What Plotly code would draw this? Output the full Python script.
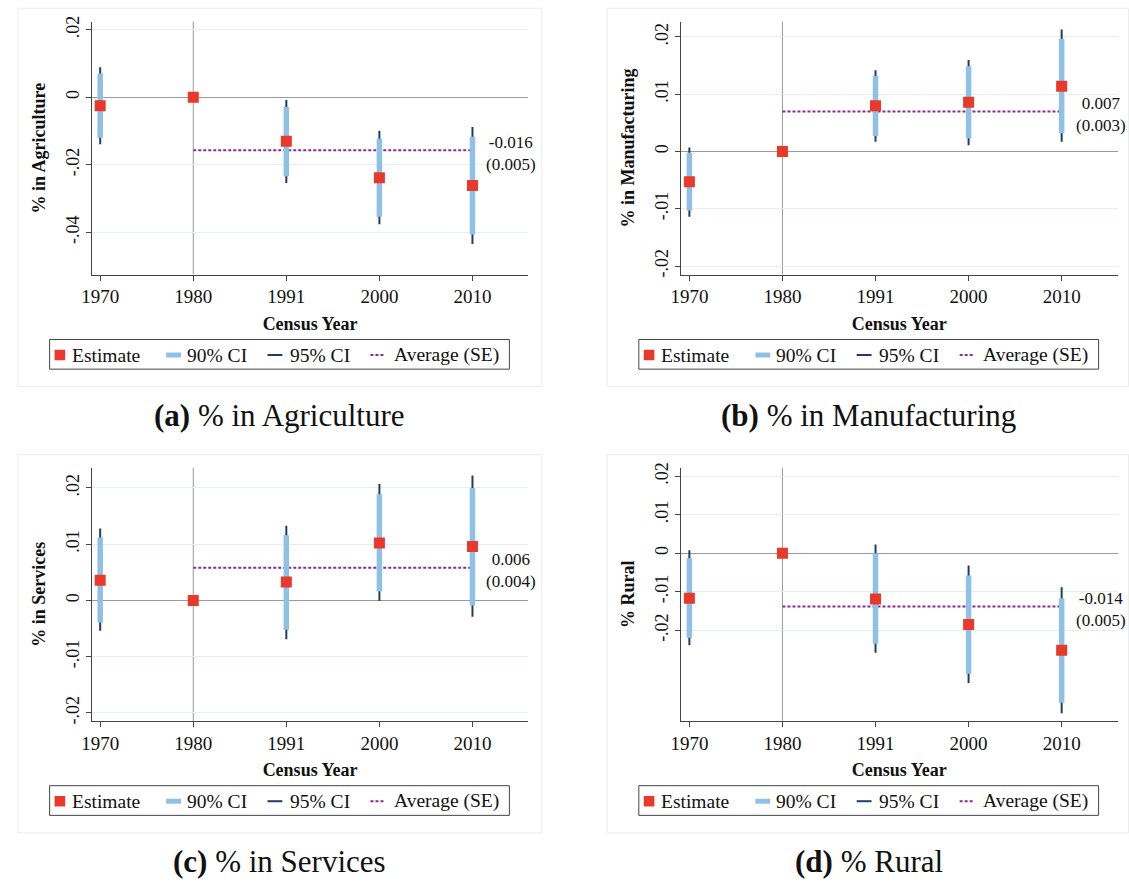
import plotly.graph_objects as go

W, H = 1129, 886

# ---------------- data ----------------
years = ["1970", "1980", "1991", "2000", "2010"]

agri_est = [-0.0025, 0.0, -0.0130, -0.0238, -0.0261]
agri_lo90 = [-0.0120, None, -0.0234, -0.0354, -0.0406]
agri_hi90 = [0.0070, None, -0.0029, -0.0123, -0.0117]
agri_lo95 = [-0.0139, None, -0.0254, -0.0376, -0.0434]
agri_hi95 = [0.0089, None, -0.0008, -0.0099, -0.0088]
agri_avg = -0.0157
agri_se = 0.005

manu_est = [-0.0053, 0.0, 0.0080, 0.0086, 0.0114]
manu_lo90 = [-0.0103, None, 0.0027, 0.0023, 0.0032]
manu_hi90 = [-0.0002, None, 0.0132, 0.0149, 0.0197]
manu_lo95 = [-0.0114, None, 0.0017, 0.0011, 0.0017]
manu_hi95 = [0.0007, None, 0.0142, 0.0160, 0.0213]
manu_avg = 0.0070
manu_se = 0.003

serv_est = [0.0036, 0.0, 0.0033, 0.0102, 0.0096]
serv_lo90 = [-0.0039, None, -0.0052, 0.0016, -0.0009]
serv_hi90 = [0.0112, None, 0.0116, 0.0189, 0.0200]
serv_lo95 = [-0.0054, None, -0.0069, -0.0001, -0.0029]
serv_hi95 = [0.0128, None, 0.0133, 0.0207, 0.0222]
serv_avg = 0.0058
serv_se = 0.004

rural_est = [-0.0117, 0.0, -0.0119, -0.0185, -0.0252]
rural_lo90 = [-0.0219, None, -0.0235, -0.0313, -0.0388]
rural_hi90 = [-0.0013, None, 0.0000, -0.0058, -0.0117]
rural_lo95 = [-0.0239, None, -0.0258, -0.0337, -0.0415]
rural_hi95 = [0.0008, None, 0.0023, -0.0032, -0.0088]
rural_avg = -0.0138
rural_se = 0.005

yticks_a = [-0.04, -0.02, 0, 0.02]
yticklabels_a = ["-.04", "-.02", "0", ".02"]
yticks_b = [-0.02, -0.01, 0, 0.01, 0.02]
yticklabels_b = ["-.02", "-.01", "0", ".01", ".02"]

legend_labels = ["Estimate", "90% CI", "95% CI", "Average (SE)"]
xtitle = "Census Year"

# ---------------- styles ----------------
FONT = "Liberation Serif"
RED = "#e8392a"
LIGHTBLUE = "#8fc0e6"
NAVY = "#203d62"
PURPLE = "#8b2a93"
GRAY = "#9a9a9a"
AXIS = "#444444"
GRID = "#e6eff0"


def px(x):
    return x / W


def py(y):
    return 1 - y / H


panels = [
    dict(est=agri_est, lo90=agri_lo90, hi90=agri_hi90, lo95=agri_lo95, hi95=agri_hi95,
         avg=agri_avg, se=agri_se, ytitle="% in Agriculture", cap_b="(a)", cap="% in Agriculture",
         yr=[-0.0525, 0.0224], tv=yticks_a, tt=yticklabels_a, dx=0, dy=0),
    dict(est=manu_est, lo90=manu_lo90, hi90=manu_hi90, lo95=manu_lo95, hi95=manu_hi95,
         avg=manu_avg, se=manu_se, ytitle="% in Manufacturing", cap_b="(b)", cap="% in Manufacturing",
         yr=[-0.0215, 0.0227], tv=yticks_b, tt=yticklabels_b, dx=595, dy=0),
    dict(est=serv_est, lo90=serv_lo90, hi90=serv_hi90, lo95=serv_lo95, hi95=serv_hi95,
         avg=serv_avg, se=serv_se, ytitle="% in Services", cap_b="(c)", cap="% in Services",
         yr=[-0.0214, 0.0236], tv=yticks_b, tt=yticklabels_b, dx=0, dy=451.3),
    dict(est=rural_est, lo90=rural_lo90, hi90=rural_hi90, lo95=rural_lo95, hi95=rural_hi95,
         avg=rural_avg, se=rural_se, ytitle="% Rural", cap_b="(d)", cap="% Rural",
         yr=[-0.0435, 0.0222], tv=yticks_b, tt=yticklabels_b, dx=595, dy=451.3),
]

fig = go.Figure()
shapes = []
annotations = []
layout = dict(
    width=W, height=H, margin=dict(l=0, r=0, t=0, b=0, pad=0),
    paper_bgcolor="white", plot_bgcolor="white", showlegend=False,
    font=dict(family=FONT, color="#111111"),
)


def diff(a, b):
    return [None if (u is None or v is None) else u - v for u, v in zip(a, b)]


last_idx = len(years) - 1
ref_idx = years.index("1980")

for i, p in enumerate(panels, start=1):
    sfx = "" if i == 1 else str(i)
    xa, ya = "x" + sfx, "y" + sfx
    dx, dy = p["dx"], p["dy"]
    x0, x1 = 81.6 + dx, 522.4 + dx
    y0, y1 = 15.7 + dy, 271.7 + dy

    # panel frame
    shapes.append(dict(type="rect", xref="paper", yref="paper", x0=px(7 + dx),
                       x1=px(min(536 + dx, W - 0.5)),
                       y0=py(2.3 + dy), y1=py(385 + dy), line=dict(color="#ececec", width=1),
                       layer="below"))

    # vertical reference line at 1980
    shapes.append(dict(type="line", xref=xa, yref=ya + " domain", x0=ref_idx, x1=ref_idx,
                       y0=0, y1=1, line=dict(color=GRAY, width=1), layer="below"))

    # average line
    fig.add_trace(go.Scatter(x=[years[ref_idx], years[-1]], y=[p["avg"], p["avg"]], mode="lines",
                             line=dict(color=PURPLE, width=2, dash="3px,2px"), xaxis=xa, yaxis=ya,
                             hoverinfo="skip"))
    # 95% CI
    fig.add_trace(go.Scatter(x=years, y=p["est"], mode="markers", marker=dict(size=2, opacity=0),
                             error_y=dict(type="data", symmetric=False, array=diff(p["hi95"], p["est"]),
                                          arrayminus=diff(p["est"], p["lo95"]), thickness=2, width=0,
                                          color=NAVY), xaxis=xa, yaxis=ya))
    # 90% CI
    fig.add_trace(go.Scatter(x=years, y=p["est"], mode="markers", marker=dict(size=2, opacity=0),
                             error_y=dict(type="data", symmetric=False, array=diff(p["hi90"], p["est"]),
                                          arrayminus=diff(p["est"], p["lo90"]), thickness=5.5, width=0,
                                          color=LIGHTBLUE), xaxis=xa, yaxis=ya))
    # estimates
    fig.add_trace(go.Scatter(x=years, y=p["est"], mode="markers",
                             marker=dict(symbol="square", size=11, color=RED), xaxis=xa, yaxis=ya))

    layout["xaxis" + sfx] = dict(
        domain=[px(x0), px(x1)], anchor=ya, type="category", categoryorder="array", categoryarray=years,
        range=[-0.09, 4.6],
        showline=True, linecolor=AXIS, linewidth=1, ticks="outside", ticklen=5, tickcolor=AXIS,
        showgrid=False, zeroline=False, tickfont=dict(family=FONT, size=19, color="#111"),
        title=dict(text=xtitle, font=dict(family=FONT, size=18, weight="bold", color="#111"), standoff=10),
        fixedrange=True,
    )
    layout["yaxis" + sfx] = dict(
        domain=[py(y1), py(y0)], anchor=xa, range=p["yr"], tickvals=p["tv"], ticktext=p["tt"],
        tickangle=-90, showline=True, linecolor=AXIS, linewidth=1, ticks="outside", ticklen=5,
        tickcolor=AXIS, showgrid=True, gridcolor=GRID, gridwidth=1, zeroline=True, zerolinecolor=GRAY,
        zerolinewidth=1, tickfont=dict(family=FONT, size=18, color="#111"),
        title=dict(text=p["ytitle"], font=dict(family=FONT, size=18, weight="bold", color="#111"), standoff=12),
        fixedrange=True,
    )

    # average label (value and standard error)
    annotations.append(dict(xref=xa, yref=ya, x=last_idx, y=p["avg"],
                            text=f"{p['avg']:.3f}<br>({p['se']:.3f})", showarrow=False, align="center",
                            xanchor="center", yanchor="middle", xshift=39, yshift=-3,
                            font=dict(family=FONT, size=17, color="#111")))

    # legend (drawn manually)
    ly = 353 + dy
    shapes.append(dict(type="rect", xref="paper", yref="paper", x0=px(39 + dx), x1=px(503.3 + dx),
                       y0=py(337.3 + dy), y1=py(367.3 + dy), line=dict(color=AXIS, width=1),
                       fillcolor="white"))
    shapes.append(dict(type="rect", xref="paper", yref="paper", x0=px(44 + dx), x1=px(54.7 + dx),
                       y0=py(ly - 5.3), y1=py(ly + 5.3), line=dict(width=0), fillcolor=RED))
    shapes.append(dict(type="line", xref="paper", yref="paper", x0=px(156.7 + dx), x1=px(171.7 + dx),
                       y0=py(ly), y1=py(ly), line=dict(color=LIGHTBLUE, width=5)))
    shapes.append(dict(type="line", xref="paper", yref="paper", x0=px(259 + dx), x1=px(274 + dx),
                       y0=py(ly), y1=py(ly), line=dict(color=NAVY, width=2)))
    shapes.append(dict(type="line", xref="paper", yref="paper", x0=px(363 + dx), x1=px(377 + dx),
                       y0=py(ly), y1=py(ly), line=dict(color=PURPLE, width=2, dash="3px,2px")))
    for lab, lx in zip(legend_labels, [61.7, 178, 281.7, 386.7]):
        annotations.append(dict(xref="paper", yref="paper", x=px(lx - 2 + dx), y=py(ly), text=lab,
                                showarrow=False, xanchor="left", yanchor="middle",
                                font=dict(family=FONT, size=19.5, color="#111")))

    # caption
    annotations.append(dict(xref="paper", yref="paper", x=px(271 + dx), y=py(414 + dy),
                            text=f"<b>{p['cap_b']}</b> {p['cap']}", showarrow=False,
                            xanchor="center", yanchor="middle",
                            font=dict(family=FONT, size=31, color="#111")))

layout["shapes"] = shapes
layout["annotations"] = annotations
fig.update_layout(**layout)
fig.write_html("out.html", config={"displayModeBar": False},
               post_script="document.body.style.margin='0';document.body.style.overflow='hidden';")
